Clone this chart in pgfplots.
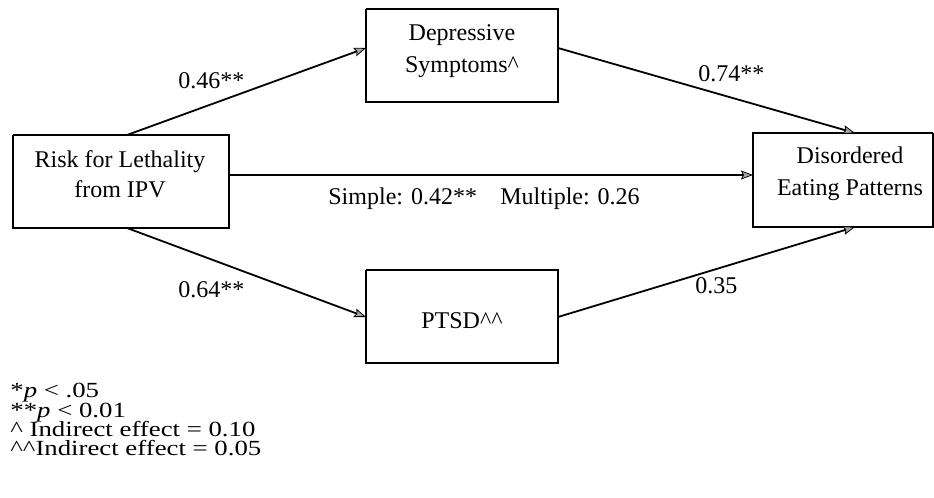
\documentclass[border=0pt]{standalone}
\usepackage{fontspec}
\setmainfont{Liberation Serif}
\newfontfamily\notefont[FakeStretch=1.24]{Liberation Serif}
\usepackage{pgfplots}
\pgfplotsset{compat=1.18}
\usetikzlibrary{arrows.meta}
\begin{document}
\begin{tikzpicture}
\begin{axis}[
  scale only axis, width=467pt, height=249pt,
  xmin=0, xmax=934, ymin=0, ymax=498, y dir=reverse,
  hide axis, clip=false,
  nodes={font=\fontsize{12}{15}\selectfont, inner sep=0pt}
]
\tikzset{box/.style={black, line width=0.9pt, mark=none},
  arr/.style={black, line width=0.9pt, mark=none, -{Stealth[length=6pt,width=4.5pt,inset=1pt,fill=gray!70,line width=0.4pt]}}}
% frame (invisible) to keep the page size
\addplot[draw=none, mark=none] coordinates {(0,0) (934,498)};
% boxes
\addplot[box] coordinates {(13,135) (229,135) (229,228) (13,228) (13,135)};
\addplot[box] coordinates {(366,9) (558,9) (558,102) (366,102) (366,9)};
\addplot[box] coordinates {(366,270) (558,270) (558,363) (366,363) (366,270)};
\addplot[box] coordinates {(933,133) (753,133) (753,227) (933,227) (933,133)};
% arrows
\addplot[arr] coordinates {(127,135) (366,48)};
\addplot[arr] coordinates {(558,48) (855,133)};
\addplot[arr] coordinates {(229,175) (753,175)};
\addplot[arr] coordinates {(127,228) (366,317)};
\addplot[arr] coordinates {(558,317) (855,227)};
% box texts
\node[anchor=base] at (axis cs:120,168) {Risk for Lethality};
\node[anchor=base] at (axis cs:120,198) {from IPV};
\node[anchor=base] at (axis cs:462,40) {Depressive};
\node[anchor=base] at (axis cs:462,72) {Symptoms\textasciicircum};
\node[anchor=base] at (axis cs:462,328) {PTSD\textasciicircum\textasciicircum};
\node[anchor=base] at (axis cs:850,163) {Disordered};
\node[anchor=base] at (axis cs:850,195) {Eating Patterns};
% path labels
\node[anchor=base west] at (axis cs:178,89) {0.46**};
\node[anchor=base west] at (axis cs:698,82) {0.74**};
\node[anchor=base west] at (axis cs:328,204) {Simple: 0.42**};
\node[anchor=base west] at (axis cs:500,204) {Multiple: 0.26};
\node[anchor=base west] at (axis cs:178,297) {0.64**};
\node[anchor=base west] at (axis cs:695,293) {0.35};
% notes
\begin{scope}[every node/.style={font=\notefont\fontsize{10.8}{13}\selectfont, inner sep=0pt, anchor=base west}]
\node at (axis cs:10,397) {*\textit{p} < .05};
\node at (axis cs:10,417) {**\textit{p} < 0.01};
\node at (axis cs:10,436) {\textasciicircum{} Indirect effect = 0.10};
\node at (axis cs:10,455) {\textasciicircum\textasciicircum Indirect effect = 0.05};
\end{scope}
\end{axis}
\end{tikzpicture}
\end{document}
